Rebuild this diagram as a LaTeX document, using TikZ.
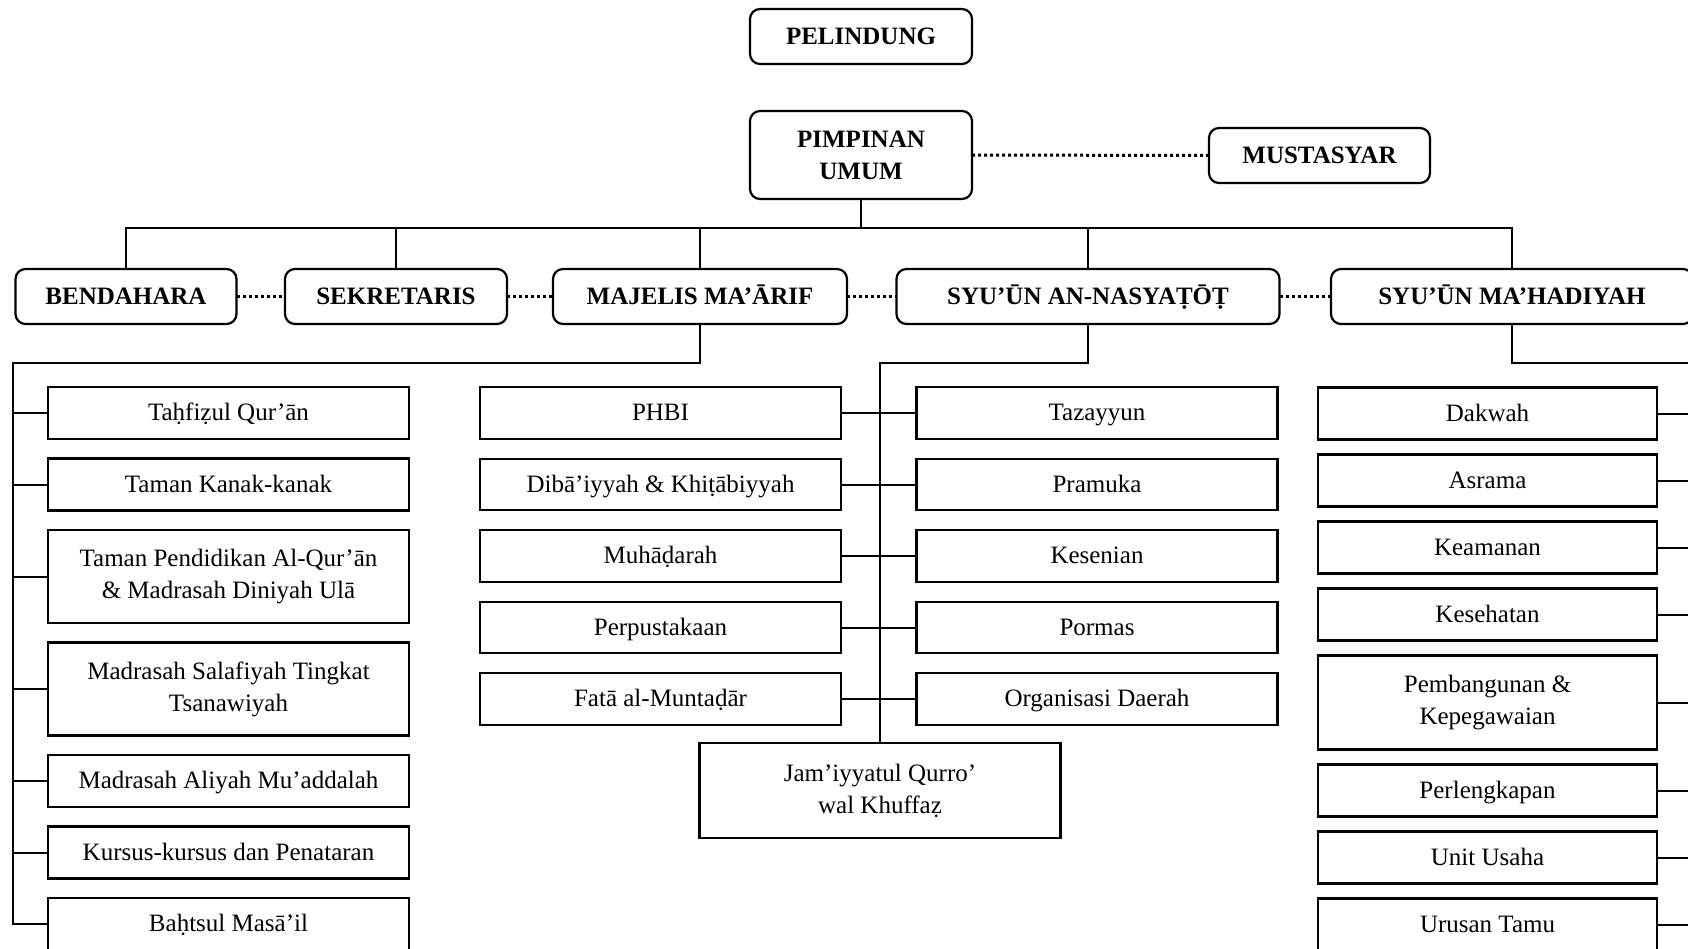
\documentclass[tikz,border=0pt]{standalone}
\usepackage{fontspec}
\setmainfont{Liberation Serif}
\usetikzlibrary{positioning}

\begin{document}
\begin{tikzpicture}[x=1pt,y=-1pt,
	font=\fontsize{25}{32}\selectfont,
	head/.style={draw,line width=2.2pt,rounded corners=10pt,align=center,inner sep=0pt,outer sep=0pt,
		minimum height=55pt,text height=17pt,text depth=1.5pt,font=\fontsize{25}{32}\selectfont\bfseries},
	unit/.style={draw,line width=2.2pt,align=center,inner sep=0pt,outer sep=0pt,
		minimum width=361pt,minimum height=52pt,text height=17pt,text depth=1.5pt},
	tall/.style={unit,minimum height=93pt,text height=,text depth=},
	link/.style={line width=2pt},
	dots/.style={line width=3pt,dash pattern=on 3pt off 3pt},
	node distance=19.5pt]

	\path[use as bounding box,fill=white] (0,0) rectangle (1688,948);
	\clip (0,0) rectangle (1688,948);

	\node[head,minimum width=222pt] (pelindung) at (861,36.5) {PELINDUNG};
	\node[head,minimum width=222pt,minimum height=88pt,text height=,text depth=] (pimpinan) at (861,155) {PIMPINAN\\UMUM};
	\node[head,minimum width=221pt] (mustasyar) at (1319.5,155.5) {MUSTASYAR};

	\node[head,minimum width=221pt] (bendahara) at (126,296.5) {BENDAHARA};
	\node[head,minimum width=222pt] (sekretaris) at (396,296.5) {SEKRETARIS};
	\node[head,minimum width=294pt] (maarif) at (700,296.5) {MAJELIS MA’ĀRIF};
	\node[head,minimum width=383pt] (nasyatot) at (1088,296.5) {SYU’ŪN AN-NASYAṬŌṬ};
	\node[head,minimum width=362pt] (mahadiyah) at (1512,296.5) {SYU’ŪN MA’HADIYAH};

	\coordinate (bus) at (860,228);
	\draw[link] (pimpinan.south) -- (pimpinan.south |- bus);
	\draw[link] (bendahara.north) |- (mahadiyah.north |- bus) -- (mahadiyah.north);
	\draw[link] (sekretaris.north) -- (sekretaris.north |- bus);
	\draw[link] (maarif.north) -- (maarif.north |- bus);
	\draw[link] (nasyatot.north) -- (nasyatot.north |- bus);

	\draw[dots] (pimpinan) -- (mustasyar);
	\draw[dots] (bendahara) -- (sekretaris);
	\draw[dots] (sekretaris) -- (maarif);
	\draw[dots] (maarif) -- (nasyatot);
	\draw[dots] (nasyatot) -- (mahadiyah);

	% majelis ma'arif
	\node[unit] (m1) at (228.5,413) {Taḥfiẓul Qur’ān};
	\node[unit,below=of m1] (m2) {Taman Kanak-kanak};
	\node[tall,below=of m2] (m3) {Taman Pendidikan Al-Qur’ān\\\& Madrasah Diniyah Ulā};
	\node[tall,below=of m3] (m4) {Madrasah Salafiyah Tingkat\\Tsanawiyah};
	\node[unit,below=of m4] (m5) {Madrasah Aliyah Mu’addalah};
	\node[unit,below=of m5] (m6) {Kursus-kursus dan Penataran};
	\node[unit,below=of m6] (m7) {Baḥtsul Masā’il};

	\coordinate (mleft) at (13,363);
	\draw[link] (maarif.south) -- (maarif.south |- mleft) -- (mleft) |- (m7.west);
	\draw[link] (mleft |- m1) -- (m1.west);
	\draw[link] (mleft |- m2) -- (m2.west);
	\draw[link] (mleft |- m3) -- (m3.west);
	\draw[link] (mleft |- m4) -- (m4.west);
	\draw[link] (mleft |- m5) -- (m5.west);
	\draw[link] (mleft |- m6) -- (m6.west);

	% syu'un an-nasyatot
	\begin{scope}[node distance=20pt,unit/.append style={minimum height=51.5pt}]
	\node[unit] (nl1) at (660.5,413) {PHBI};
	\node[unit,below=of nl1] (nl2) {Dibā’iyyah \& Khiṭābiyyah};
	\node[unit,below=of nl2] (nl3) {Muhāḍarah};
	\node[unit,below=of nl3] (nl4) {Perpustakaan};
	\node[unit,below=of nl4] (nl5) {Fatā al-Muntaḍār};
	\node[unit] (nr1) at (1097,413) {Tazayyun};
	\node[unit,below=of nr1] (nr2) {Pramuka};
	\node[unit,below=of nr2] (nr3) {Kesenian};
	\node[unit,below=of nr3] (nr4) {Pormas};
	\node[unit,below=of nr4] (nr5) {Organisasi Daerah};
	\end{scope}
	\node[tall,minimum height=95pt] (jqk) at (880,790.5) {Jam’iyyatul Qurro’\\wal Khuffaẓ};

	\coordinate (nmid) at (880,363);
	\draw[link] (nasyatot.south) -- (nasyatot.south |- nmid) -- (nmid) -- (jqk.north);
	\draw[link] (nl1.east) -- (nr1.west);
	\draw[link] (nl2.east) -- (nr2.west);
	\draw[link] (nl3.east) -- (nr3.west);
	\draw[link] (nl4.east) -- (nr4.west);
	\draw[link] (nl5.east) -- (nr5.west);

	% syu'un ma'hadiyah
	\begin{scope}[node distance=15pt,unit/.append style={minimum width=339pt}]
	\node[unit] (h1) at (1487.5,413.5) {Dakwah};
	\node[unit,below=of h1] (h2) {Asrama};
	\node[unit,below=of h2] (h3) {Keamanan};
	\node[unit,below=of h3] (h4) {Kesehatan};
	\node[tall,minimum height=94pt,below=of h4] (h5) {Pembangunan \&\\Kepegawaian};
	\node[unit,below=of h5] (h6) {Perlengkapan};
	\node[unit,below=of h6] (h7) {Unit Usaha};
	\node[unit,below=of h7] (h8) {Urusan Tamu};
	\end{scope}

	\coordinate (hright) at (1700,363);
	\draw[link] (mahadiyah.south) -- (mahadiyah.south |- hright) -- (hright) |- (h8.east);
	\draw[link] (h1.east) -- (hright |- h1);
	\draw[link] (h2.east) -- (hright |- h2);
	\draw[link] (h3.east) -- (hright |- h3);
	\draw[link] (h4.east) -- (hright |- h4);
	\draw[link] (h5.east) -- (hright |- h5);
	\draw[link] (h6.east) -- (hright |- h6);
	\draw[link] (h7.east) -- (hright |- h7);
\end{tikzpicture}
\end{document}
